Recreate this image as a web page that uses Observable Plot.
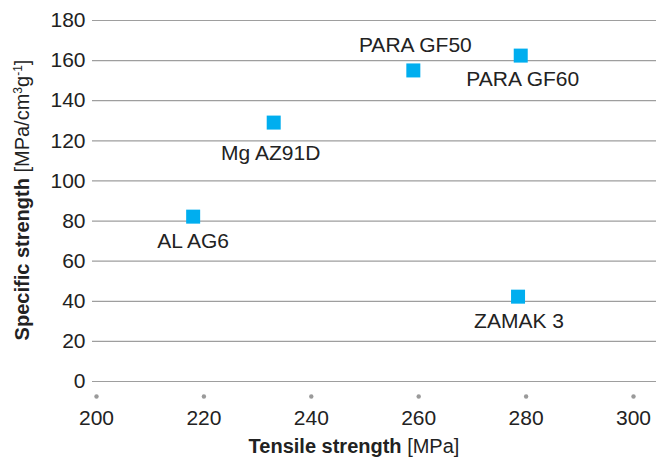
<!DOCTYPE html>
<html>
<head>
<meta charset="utf-8">
<script src="https://cdn.jsdelivr.net/npm/d3@7"></script>
<script src="https://cdn.jsdelivr.net/npm/@observablehq/plot@0.6"></script>
<style>
  html, body { margin: 0; padding: 0; background: #fff; }
  #chart { width: 668px; height: 461px; }
</style>
</head>
<body>
<div id="chart"></div>
<script>
// ---- data ----
const materials = ["AL AG6", "Mg AZ91D", "PARA GF50", "PARA GF60", "ZAMAK 3"];
const tensileStrength = [218, 233, 259, 279, 278.5];      // MPa
const specificStrength = [82.2, 129.1, 155.1, 162.5, 42.3]; // MPa/cm3g-1
const xTicks = [200, 220, 240, 260, 280, 300];
const yTicks = [0, 20, 40, 60, 80, 100, 120, 140, 160, 180];

const rows = materials.map((name, i) => ({name, x: tensileStrength[i], y: specificStrength[i]}));

// label placement (styling, kept apart from the data)
const labelOffset = {
  "AL AG6":    {dx: 0,  dy: 25},
  "Mg AZ91D":  {dx: -3, dy: 31},
  "PARA GF50": {dx: 2,  dy: -25},
  "PARA GF60": {dx: 2,  dy: 24},
  "ZAMAK 3":   {dx: 1,  dy: 25}
};

const font = "'Liberation Sans', Arial, Helvetica, sans-serif";
const textColor = "#222";

const plot = Plot.plot({
  width: 668,
  height: 461,
  marginLeft: 92,
  marginRight: 12,
  marginTop: 20,
  marginBottom: 80,
  style: {fontFamily: font, fontSize: "21px", color: textColor, background: "#fff"},
  x: {domain: [200, 300], insetLeft: 4, insetRight: 23},
  y: {domain: [0, 180]},
  marks: [
    Plot.ruleY(yTicks, {stroke: "#9e9e9e", strokeWidth: 1.2}),
    Plot.axisY({ticks: yTicks, tickSize: 0, tickPadding: 7, label: null, fill: textColor, fontSize: 21}),
    Plot.axisX({ticks: xTicks, tickSize: 0, tickPadding: 29, label: null, fill: textColor, fontSize: 21}),
    Plot.dot(xTicks, {x: d => d, y: () => 0, dy: 15, r: 2.2, fill: "#9a9a9a", stroke: null}),
    Plot.dot(rows, {x: "x", y: "y", symbol: "square", r: 7.9, fill: "#00AEEF", stroke: null}),
    ...materials.map(m => Plot.text(rows.filter(d => d.name === m), {
      x: "x", y: "y", text: "name",
      dx: labelOffset[m].dx, dy: labelOffset[m].dy,
      fill: textColor, fontSize: 21, textAnchor: "middle"
    }))
  ]
});

const svg = d3.select(plot);
// x-axis title
const xt = svg.append("text")
  .attr("x", 354).attr("y", 453)
  .attr("text-anchor", "middle")
  .attr("fill", textColor)
  .style("font-family", font).style("font-size", "20px");
xt.append("tspan").attr("font-weight", "bold").text("Tensile strength");
xt.append("tspan").text(" [MPa]");

// y-axis title
const yt = svg.append("text")
  .attr("transform", "translate(29,200) rotate(-90)")
  .attr("text-anchor", "middle")
  .attr("fill", textColor)
  .style("font-family", font).style("font-size", "20px");
yt.append("tspan").attr("font-weight", "bold").text("Specific strength");
yt.append("tspan").text(" [MPa/cm");
yt.append("tspan").attr("dy", -7).style("font-size", "12px").text("3");
yt.append("tspan").attr("dy", 7).text("g");
yt.append("tspan").attr("dy", -7).style("font-size", "12px").text("-1");
yt.append("tspan").attr("dy", 7).text("]");

document.getElementById("chart").appendChild(plot);
</script>
</body>
</html>
